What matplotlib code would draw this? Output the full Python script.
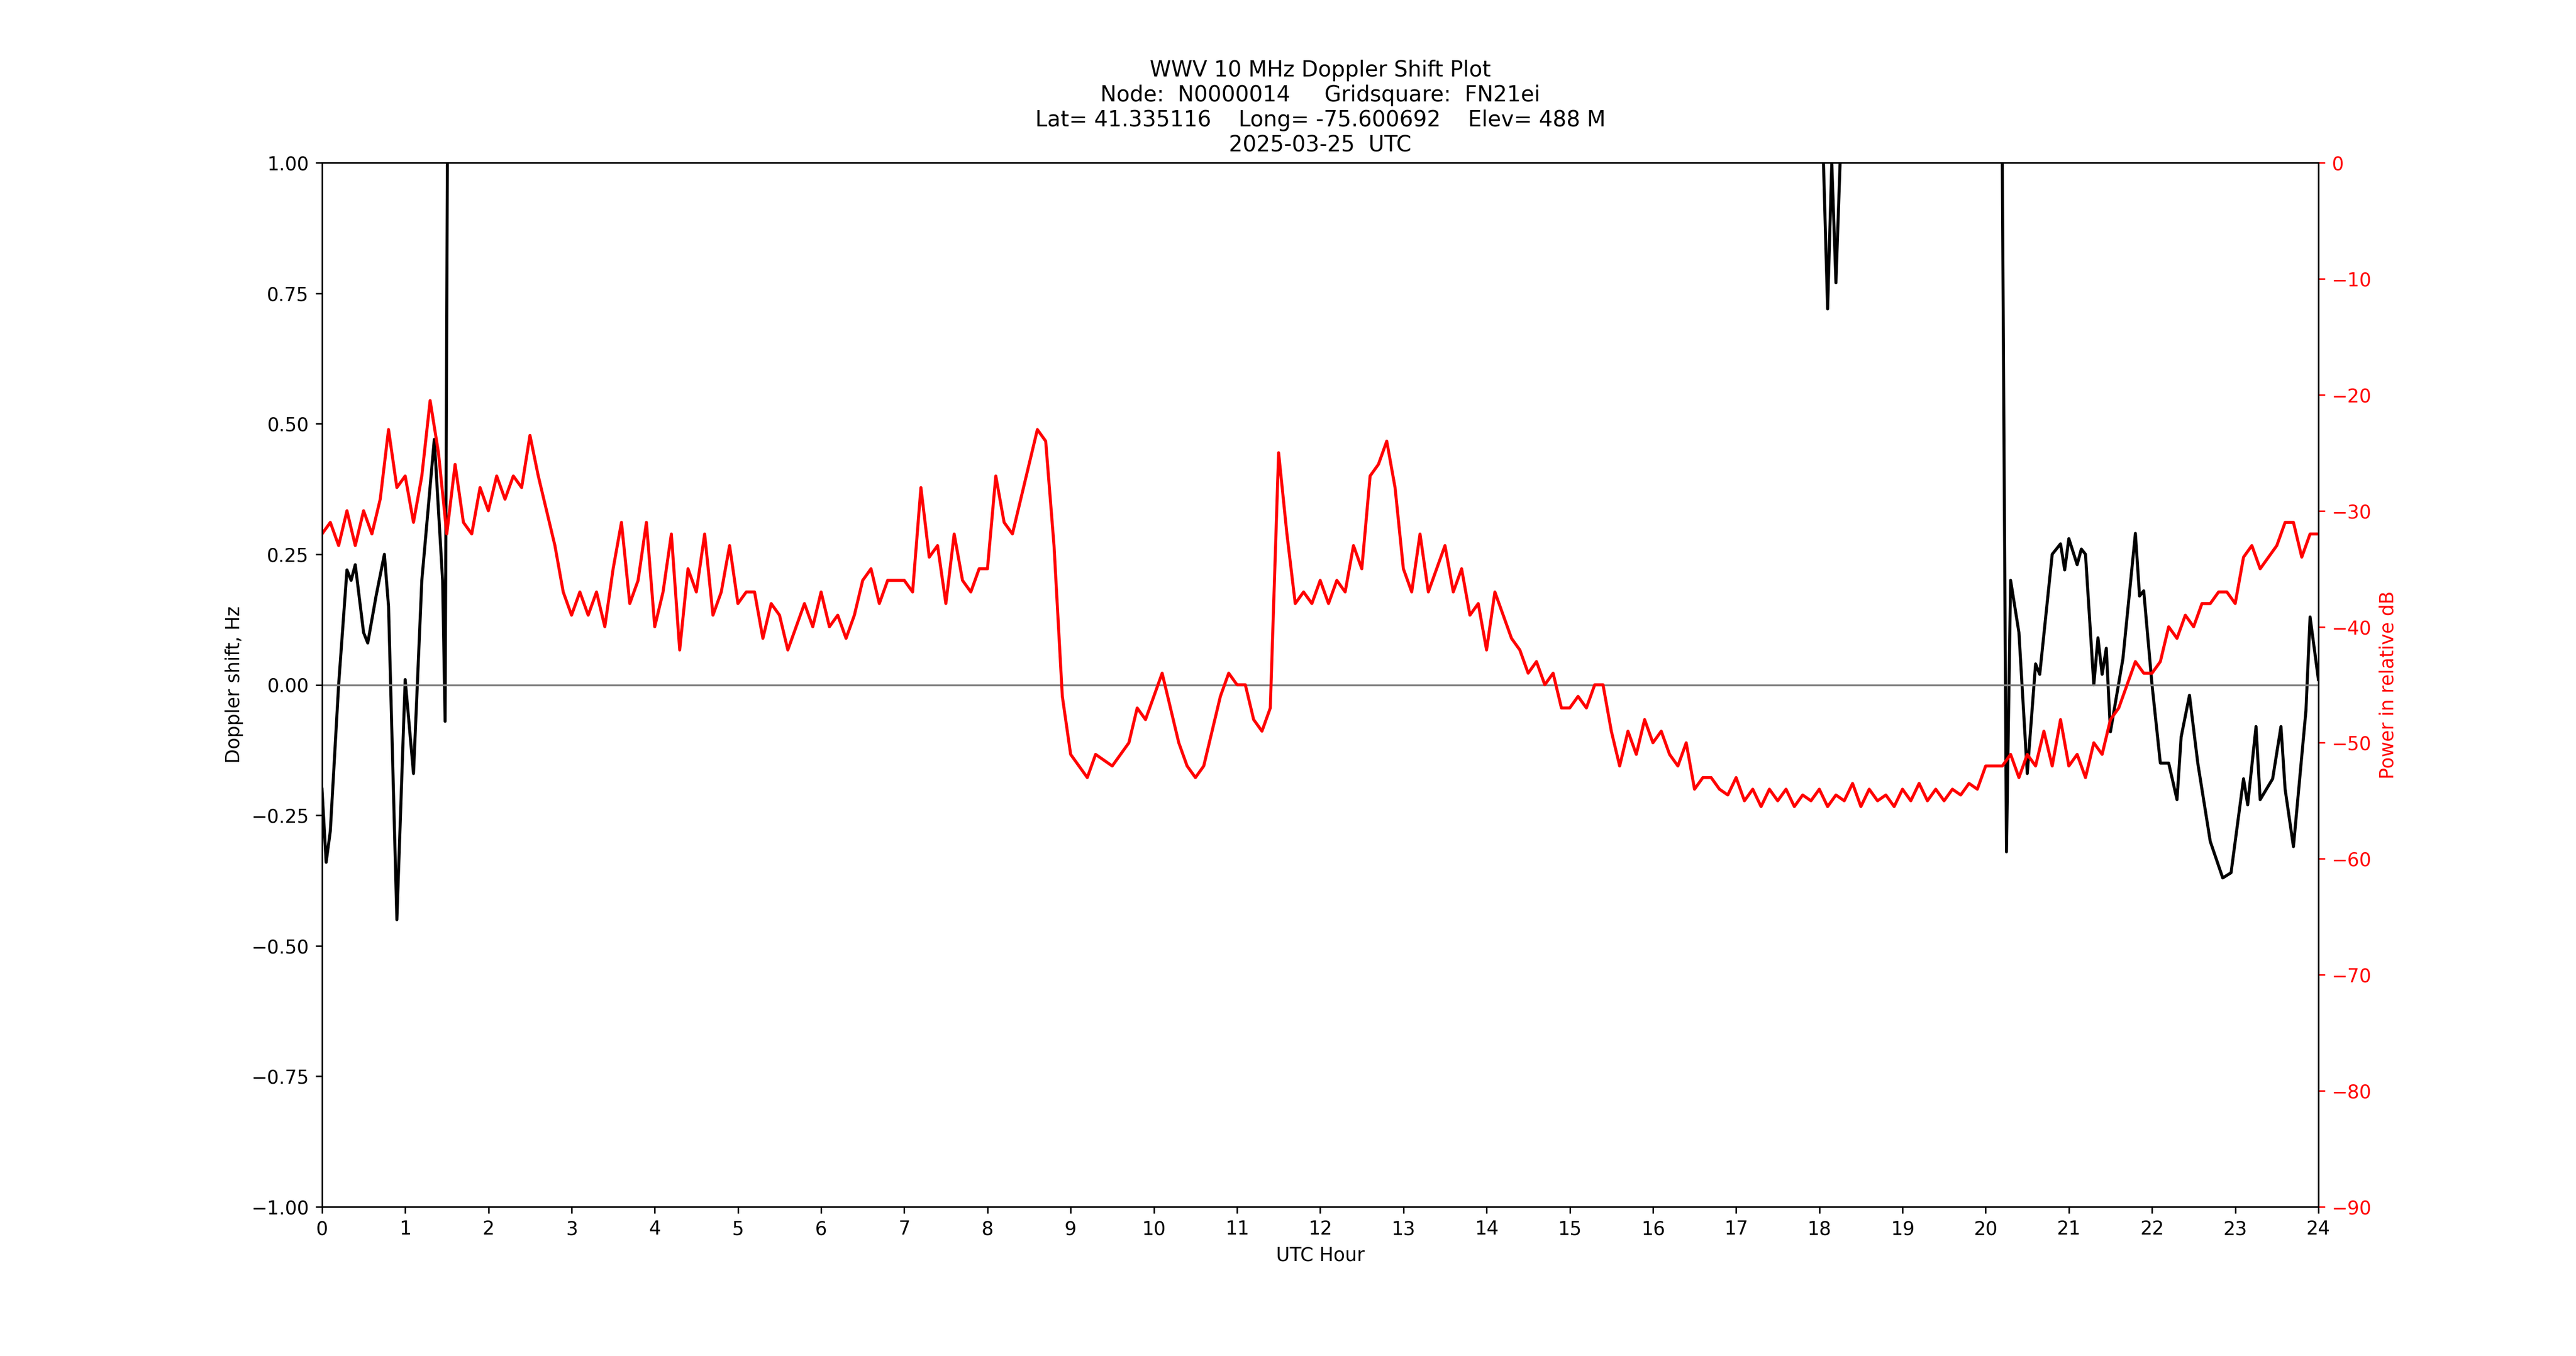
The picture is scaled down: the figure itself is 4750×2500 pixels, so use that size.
import matplotlib
matplotlib.use("Agg")
import matplotlib.pyplot as plt
import numpy as np

# power (relative dB)
pwr_hours = np.round(np.arange(0, 24.01, 0.1), 2)
pwr_db = [
    -32, -31, -33, -30, -33, -30, -32, -29, -23, -28,
    -27, -31, -27, -20.5, -25, -32, -26, -31, -32, -28,
    -30, -27, -29, -27, -28, -23.5, -27, -30, -33, -37,
    -39, -37, -39, -37, -40, -35, -31, -38, -36, -31,
    -40, -37, -32, -42, -35, -37, -32, -39, -37, -33,
    -38, -37, -37, -41, -38, -39, -42, -40, -38, -40,
    -37, -40, -39, -41, -39, -36, -35, -38, -36, -36,
    -36, -37, -28, -34, -33, -38, -32, -36, -37, -35,
    -35, -27, -31, -32, -29, -26, -23, -24, -33, -46,
    -51, -52, -53, -51, -51.5, -52, -51, -50, -47, -48,
    -46, -44, -47, -50, -52, -53, -52, -49, -46, -44,
    -45, -45, -48, -49, -47, -25, -32, -38, -37, -38,
    -36, -38, -36, -37, -33, -35, -27, -26, -24, -28,
    -35, -37, -32, -37, -35, -33, -37, -35, -39, -38,
    -42, -37, -39, -41, -42, -44, -43, -45, -44, -47,
    -47, -46, -47, -45, -45, -49, -52, -49, -51, -48,
    -50, -49, -51, -52, -50, -54, -53, -53, -54, -54.5,
    -53, -55, -54, -55.5, -54, -55, -54, -55.5, -54.5, -55,
    -54, -55.5, -54.5, -55, -53.5, -55.5, -54, -55, -54.5, -55.5,
    -54, -55, -53.5, -55, -54, -55, -54, -54.5, -53.5, -54,
    -52, -52, -52, -51, -53, -51, -52, -49, -52, -48,
    -52, -51, -53, -50, -51, -48, -47, -45, -43, -44,
    -44, -43, -40, -41, -39, -40, -38, -38, -37, -37,
    -38, -34, -33, -35, -34, -33, -31, -31, -34, -32,
    -32,
]

# doppler shift (Hz); 1.5 = off the top of the plot
dop_hours = [
    0.0, 0.05, 0.1, 0.2, 0.3, 0.35, 0.4, 0.5, 0.55, 0.65, 0.75, 0.8, 0.9,
    1.0, 1.1, 1.2, 1.35, 1.45, 1.48, 1.52, 17.95, 18.05, 18.1, 18.15,
    18.2, 18.25, 18.3, 20.15, 20.2, 20.25, 20.3, 20.4, 20.5, 20.6, 20.65,
    20.8, 20.9, 20.95, 21.0, 21.1, 21.15, 21.2, 21.3, 21.35, 21.4, 21.45,
    21.5, 21.65, 21.8, 21.85, 21.9, 22.0, 22.1, 22.2, 22.3, 22.35, 22.45,
    22.55, 22.7, 22.85, 22.95, 23.1, 23.15, 23.25, 23.3, 23.45, 23.55,
    23.6, 23.7, 23.85, 23.9, 24.0,
]
dop_hz = [
    -0.2, -0.34, -0.28, 0.0, 0.22, 0.2, 0.23, 0.1, 0.08, 0.17, 0.25, 0.15, -0.45,
    0.01, -0.17, 0.2, 0.47, 0.2, -0.07, 1.5, 1.5, 1.0, 0.72, 1.0,
    0.77, 1.0, 1.5, 1.5, 1.0, -0.32, 0.2, 0.1, -0.17, 0.04, 0.02,
    0.25, 0.27, 0.22, 0.28, 0.23, 0.26, 0.25, 0.0, 0.09, 0.02, 0.07,
    -0.09, 0.05, 0.29, 0.17, 0.18, 0.0, -0.15, -0.15, -0.22, -0.1, -0.02,
    -0.15, -0.3, -0.37, -0.36, -0.18, -0.23, -0.08, -0.22, -0.18, -0.08,
    -0.2, -0.31, -0.05, 0.13, 0.01,
]

fig, ax = plt.subplots(figsize=(19, 10), dpi=250)
ax.plot(dop_hours, dop_hz, color='black', linewidth=1.6)
ax.axhline(0, color='gray', linewidth=1)
ax.set_xlim(0, 24)
ax.set_ylim(-1, 1)
ax.set_xticks(range(0, 25))
ax.set_xlabel('UTC Hour')
ax.set_ylabel('Doppler shift, Hz')
ax.set_title('WWV 10 MHz Doppler Shift Plot\n'
             'Node:  N0000014     Gridsquare:  FN21ei\n'
             'Lat= 41.335116    Long= -75.600692    Elev= 488 M\n'
             '2025-03-25  UTC', fontsize=11.5)

ax2 = ax.twinx()
ax2.plot(pwr_hours, pwr_db, color='red', linewidth=1.6)
ax2.set_ylim(-90, 0)
ax2.set_ylabel('Power in relative dB', color='red')
ax2.tick_params(axis='y', colors='red')

fig.savefig('out.png')
